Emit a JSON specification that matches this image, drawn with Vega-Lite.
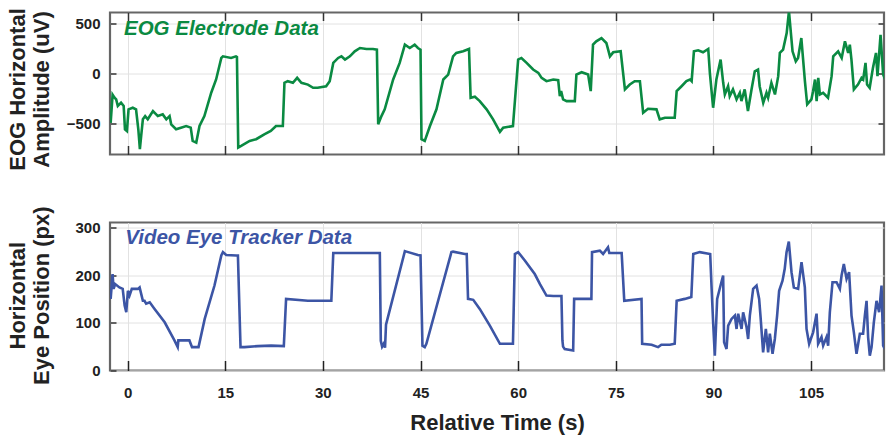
{
"$schema": "https://vega.github.io/schema/vega-lite/v6.json",
"background": "white",
"padding": {"left": 4, "top": 6.5, "right": 0, "bottom": 4},
"bounds": "flush",
"spacing": 68,
"config": {"view": {"stroke": "#666666", "strokeWidth": 2.2}, "font": "Liberation Sans"},
"datasets": {
"eog": [
{"t":-2.6,"v":-490},{"t":-2.3,"v":-210},{"t":-2.0,"v":-240},{"t":-1.75,"v":-257},{"t":-1.5,"v":-323},{"t":-1.0,"v":-290},{"t":-0.6,"v":-323},{"t":-0.4,"v":-554},{"t":-0.1,"v":-571},{"t":0.15,"v":-356},{"t":0.8,"v":-340},{"t":1.3,"v":-356},{"t":1.65,"v":-554},{"t":1.89,"v":-752},{"t":2.09,"v":-620},{"t":2.35,"v":-455},{"t":2.7,"v":-423},{"t":3.1,"v":-455},{"t":3.9,"v":-373},{"t":4.65,"v":-423},{"t":5.4,"v":-406},{"t":5.95,"v":-455},{"t":6.45,"v":-423},{"t":6.7,"v":-505},{"t":7.45,"v":-554},{"t":8.2,"v":-538},{"t":9.0,"v":-522},{"t":9.7,"v":-538},{"t":10.0,"v":-670},{"t":10.55,"v":-686},{"t":11.05,"v":-522},{"t":11.8,"v":-423},{"t":12.85,"v":-191},{"t":13.6,"v":-59},{"t":14.4,"v":155},{"t":14.65,"v":171},{"t":15.9,"v":155},{"t":16.65,"v":171},{"t":16.8,"v":165},{"t":17.0,"v":-736},{"t":17.45,"v":-720},{"t":18.75,"v":-670},{"t":19.75,"v":-653},{"t":21.0,"v":-604},{"t":22.0,"v":-571},{"t":22.8,"v":-522},{"t":23.85,"v":-522},{"t":24.1,"v":-92},{"t":24.6,"v":-76},{"t":25.4,"v":-92},{"t":26.05,"v":-43},{"t":26.7,"v":-92},{"t":27.7,"v":-110},{"t":28.5,"v":-142},{"t":29.2,"v":-142},{"t":30.5,"v":-126},{"t":31.05,"v":-76},{"t":31.6,"v":106},{"t":32.35,"v":155},{"t":32.85,"v":171},{"t":33.4,"v":139},{"t":34.15,"v":171},{"t":34.9,"v":221},{"t":35.7,"v":254},{"t":36.7,"v":244},{"t":37.7,"v":244},{"t":38.3,"v":238},{"t":38.5,"v":-505},{"t":39.0,"v":-423},{"t":39.5,"v":-356},{"t":40.8,"v":-59},{"t":41.8,"v":106},{"t":42.6,"v":287},{"t":43.35,"v":254},{"t":44.1,"v":287},{"t":44.6,"v":254},{"t":45.0,"v":238},{"t":45.15,"v":-653},{"t":45.65,"v":-670},{"t":46.45,"v":-522},{"t":47.45,"v":-356},{"t":48.5,"v":-59},{"t":49.25,"v":-10},{"t":50.0,"v":171},{"t":50.5,"v":205},{"t":51.55,"v":221},{"t":52.45,"v":244},{"t":52.7,"v":-241},{"t":53.35,"v":-231},{"t":54.1,"v":-274},{"t":55.15,"v":-356},{"t":56.15,"v":-455},{"t":57.2,"v":-580},{"t":57.7,"v":-538},{"t":59.2,"v":-522},{"t":59.6,"v":-191},{"t":60.0,"v":139},{"t":60.5,"v":155},{"t":61.3,"v":106},{"t":62.3,"v":40},{"t":63.1,"v":7},{"t":63.6,"v":-43},{"t":64.35,"v":-76},{"t":65.4,"v":-59},{"t":66.15,"v":-66},{"t":66.4,"v":-225},{"t":66.6,"v":-175},{"t":66.9,"v":-257},{"t":67.45,"v":-274},{"t":68.7,"v":-274},{"t":68.95,"v":-10},{"t":69.75,"v":13},{"t":70.75,"v":-10},{"t":71.15,"v":-175},{"t":71.5,"v":287},{"t":72.0,"v":320},{"t":72.8,"v":353},{"t":73.55,"v":304},{"t":74.1,"v":171},{"t":74.6,"v":211},{"t":75.75,"v":221},{"t":76.4,"v":-158},{"t":77.15,"v":-109},{"t":77.9,"v":-76},{"t":78.7,"v":-76},{"t":79.2,"v":-389},{"t":79.95,"v":-350},{"t":81.25,"v":-356},{"t":81.75,"v":-455},{"t":82.55,"v":-439},{"t":84.05,"v":-439},{"t":84.35,"v":-175},{"t":85.1,"v":-126},{"t":85.85,"v":-76},{"t":86.4,"v":-59},{"t":86.65,"v":-76},{"t":87.0,"v":221},{"t":87.65,"v":231},{"t":88.4,"v":211},{"t":89.2,"v":244},{"t":89.45,"v":7},{"t":89.95,"v":-340},{"t":90.45,"v":-59},{"t":91.1,"v":139},{"t":91.5,"v":-92},{"t":91.75,"v":-208},{"t":92.25,"v":-126},{"t":92.5,"v":-225},{"t":93.0,"v":-158},{"t":93.55,"v":-257},{"t":94.05,"v":-191},{"t":94.3,"v":-274},{"t":94.8,"v":-158},{"t":95.3,"v":-373},{"t":95.85,"v":-158},{"t":96.35,"v":23},{"t":96.85,"v":40},{"t":97.1,"v":-126},{"t":97.65,"v":-290},{"t":98.15,"v":-191},{"t":98.4,"v":-241},{"t":98.9,"v":-92},{"t":99.45,"v":-208},{"t":99.95,"v":-26},{"t":100.2,"v":205},{"t":100.7,"v":238},{"t":101.25,"v":403},{"t":101.6,"v":620},{"t":101.85,"v":436},{"t":102.15,"v":221},{"t":102.65,"v":122},{"t":103.0,"v":155},{"t":103.5,"v":353},{"t":104.05,"v":-76},{"t":104.4,"v":-307},{"t":105.05,"v":-257},{"t":105.3,"v":-175},{"t":105.6,"v":-59},{"t":105.85,"v":-274},{"t":106.1,"v":-43},{"t":106.35,"v":-208},{"t":106.85,"v":-191},{"t":107.6,"v":-241},{"t":108.15,"v":-26},{"t":108.4,"v":171},{"t":109.15,"v":221},{"t":109.7,"v":155},{"t":110.2,"v":320},{"t":110.7,"v":205},{"t":110.95,"v":287},{"t":111.2,"v":139},{"t":111.57,"v":-158},{"t":112.2,"v":-109},{"t":112.75,"v":-43},{"t":113.0,"v":-59},{"t":113.36,"v":106},{"t":113.6,"v":-109},{"t":114.0,"v":-142},{"t":114.5,"v":56},{"t":114.97,"v":205},{"t":115.2,"v":-26},{"t":115.67,"v":386},{"t":116.07,"v":-10},{"t":116.5,"v":-76}
],
"vet": [
{"t":-2.6,"v":150},{"t":-2.3,"v":202},{"t":-2.15,"v":171},{"t":-1.9,"v":181},{"t":-1.25,"v":174},{"t":-0.75,"v":171},{"t":-0.45,"v":136},{"t":-0.2,"v":122},{"t":0.05,"v":167},{"t":0.3,"v":157},{"t":0.65,"v":171},{"t":1.6,"v":171},{"t":1.85,"v":174},{"t":2.1,"v":160},{"t":2.35,"v":146},{"t":2.6,"v":146},{"t":2.85,"v":140},{"t":3.4,"v":143},{"t":4.15,"v":129},{"t":5.7,"v":101},{"t":7.2,"v":63},{"t":7.7,"v":49},{"t":7.8,"v":63},{"t":9.5,"v":63},{"t":9.9,"v":49},{"t":10.9,"v":49},{"t":11.85,"v":108},{"t":13.35,"v":178},{"t":14.4,"v":241},{"t":14.65,"v":248},{"t":15.15,"v":242},{"t":16.7,"v":241},{"t":16.95,"v":241},{"t":17.35,"v":49},{"t":17.95,"v":49},{"t":20.0,"v":51},{"t":22.05,"v":52},{"t":24.0,"v":51},{"t":24.35,"v":150},{"t":27.7,"v":146},{"t":31.3,"v":146},{"t":31.6,"v":246},{"t":34.0,"v":246},{"t":38.75,"v":246},{"t":38.9,"v":62},{"t":39.1,"v":50},{"t":39.35,"v":56},{"t":39.55,"v":48},{"t":39.7,"v":96},{"t":42.6,"v":250},{"t":42.85,"v":249},{"t":44.6,"v":242},{"t":45.0,"v":241},{"t":45.3,"v":52},{"t":45.65,"v":49},{"t":45.9,"v":56},{"t":49.75,"v":248},{"t":50.0,"v":249},{"t":51.8,"v":244},{"t":52.1,"v":244},{"t":52.3,"v":150},{"t":53.1,"v":148},{"t":54.1,"v":129},{"t":55.65,"v":94},{"t":57.2,"v":56},{"t":59.2,"v":56},{"t":59.5,"v":244},{"t":60.0,"v":248},{"t":61.05,"v":230},{"t":62.55,"v":202},{"t":63.35,"v":181},{"t":64.35,"v":157},{"t":65.4,"v":156},{"t":66.65,"v":156},{"t":66.8,"v":63},{"t":66.9,"v":50},{"t":67.15,"v":45},{"t":68.45,"v":42},{"t":68.6,"v":150},{"t":71.25,"v":150},{"t":71.35,"v":248},{"t":72.55,"v":251},{"t":73.05,"v":244},{"t":73.8,"v":258},{"t":74.0,"v":246},{"t":75.9,"v":246},{"t":76.3,"v":146},{"t":78.95,"v":150},{"t":79.05,"v":56},{"t":80.5,"v":54},{"t":81.5,"v":49},{"t":82.0,"v":54},{"t":83.3,"v":54},{"t":84.05,"v":56},{"t":84.35,"v":146},{"t":85.6,"v":150},{"t":86.6,"v":154},{"t":86.9,"v":244},{"t":87.9,"v":248},{"t":89.5,"v":244},{"t":89.7,"v":178},{"t":89.95,"v":101},{"t":90.21,"v":31},{"t":90.57,"v":150},{"t":91.09,"v":178},{"t":91.49,"v":199},{"t":91.64,"v":59},{"t":92.01,"v":45},{"t":92.26,"v":94},{"t":92.78,"v":108},{"t":93.29,"v":115},{"t":93.55,"v":87},{"t":93.8,"v":119},{"t":94.32,"v":87},{"t":94.56,"v":122},{"t":95.08,"v":91},{"t":95.33,"v":66},{"t":95.59,"v":115},{"t":96.1,"v":171},{"t":96.62,"v":178},{"t":97.02,"v":150},{"t":97.24,"v":112},{"t":97.63,"v":38},{"t":98.05,"v":87},{"t":98.4,"v":38},{"t":98.66,"v":77},{"t":99.08,"v":35},{"t":99.43,"v":66},{"t":99.78,"v":115},{"t":100.09,"v":167},{"t":100.61,"v":188},{"t":100.95,"v":213},{"t":101.23,"v":248},{"t":101.58,"v":270},{"t":101.99,"v":206},{"t":102.35,"v":174},{"t":103.01,"v":171},{"t":103.53,"v":227},{"t":104.04,"v":174},{"t":104.3,"v":87},{"t":104.7,"v":56},{"t":105.31,"v":80},{"t":105.84,"v":119},{"t":106.08,"v":56},{"t":106.6,"v":70},{"t":106.85,"v":52},{"t":107.37,"v":70},{"t":107.62,"v":52},{"t":107.88,"v":122},{"t":108.29,"v":185},{"t":108.91,"v":185},{"t":109.42,"v":171},{"t":109.68,"v":199},{"t":110.03,"v":223},{"t":110.45,"v":192},{"t":110.84,"v":206},{"t":111.21,"v":115},{"t":111.57,"v":80},{"t":111.98,"v":35},{"t":112.49,"v":77},{"t":112.99,"v":77},{"t":113.26,"v":115},{"t":113.52,"v":146},{"t":113.76,"v":70},{"t":114.02,"v":31},{"t":114.29,"v":49},{"t":114.64,"v":101},{"t":115.05,"v":146},{"t":115.45,"v":122},{"t":115.82,"v":178},{"t":116.07,"v":52},{"t":116.47,"v":42}
]
},
"vconcat": [
{
"width": 774, "height": 142,
"layer": [
{"data": {"name": "eog"},
 "mark": {"type": "line", "color": "#0a8a42", "strokeWidth": 2.6, "clip": true},
 "encoding": {
  "x": {"field": "t", "type": "quantitative", "scale": {"domain": [-2.7, 116.2], "nice": false, "zero": false},
        "axis": {"orient": "bottom", "values": [0,15,30,45,60,75,90,105], "labels": false, "title": null, "tickSize": -9, "tickColor": "#333", "tickWidth": 1.5, "domain": false, "grid": true, "gridColor": "#e2e2e2", "gridWidth": 1}},
  "y": {"field": "v", "type": "quantitative", "scale": {"domain": [-805, 607], "nice": false, "zero": false},
        "axis": {"orient": "left", "values": [-500,0,500], "tickSize": -6, "tickColor": "#333", "tickWidth": 1.5, "labelPadding": 16, "labelFontSize": 15, "labelFontWeight": "bold", "labelColor": "#222", "labelFont": "Liberation Sans",
                 "title": ["EOG Horizontal", "Amplitude (uV)"], "titleFont": "Liberation Sans", "titleFontSize": 22, "titleFontWeight": "bold", "titleColor": "#222", "titleAngle": 270, "titleX": -103, "titleY": 76.5, "titleAlign": "center", "titleBaseline": "top", "titleLineHeight": 24,
                 "domain": false, "grid": true, "gridColor": "#e2e2e2", "gridWidth": 1}}
 }},
{"data": {"values": [{}]},
 "mark": {"type": "text", "text": "EOG Electrode Data", "align": "left", "baseline": "alphabetic", "font": "Liberation Sans", "fontSize": 20.5, "fontStyle": "italic", "fontWeight": "bold", "color": "#0a8a42"},
 "encoding": {
  "x": {"datum": -0.55, "type": "quantitative", "axis": {"orient": "top", "values": [0,15,30,45,60,75,90,105], "labels": false, "title": null, "tickSize": -8, "tickColor": "#333", "tickWidth": 1.5, "domain": false, "grid": false}},
  "y": {"datum": 386, "type": "quantitative", "axis": {"orient": "right", "values": [-500,0,500], "labels": false, "title": null, "tickSize": -6, "tickColor": "#333", "tickWidth": 1.5, "domain": false, "grid": false}}
 }}
],
"resolve": {"axis": {"x": "independent", "y": "independent"}}
},
{
"width": 774, "height": 148,
"layer": [
{"data": {"name": "vet"},
 "mark": {"type": "line", "color": "#3c55a5", "strokeWidth": 2.6, "clip": true},
 "encoding": {
  "x": {"field": "t", "type": "quantitative", "scale": {"domain": [-2.7, 116.2], "nice": false, "zero": false},
        "axis": {"orient": "bottom", "values": [0,15,30,45,60,75,90,105], "tickSize": -10, "tickColor": "#222", "tickWidth": 1.5, "labelPadding": 24.8, "labelFontSize": 15, "labelFontWeight": "bold", "labelColor": "#222", "labelFont": "Liberation Sans",
                 "title": "Relative Time (s)", "titleFont": "Liberation Sans", "titleFontSize": 22, "titleFontWeight": "bold", "titleColor": "#222", "titleY": 59, "titleBaseline": "alphabetic",
                 "domain": false, "grid": true, "gridColor": "#e2e2e2", "gridWidth": 1}},
  "y": {"field": "v", "type": "quantitative", "scale": {"domain": [0, 310], "nice": false, "zero": false},
        "axis": {"orient": "left", "values": [0,100,200,300], "tickSize": -6, "tickColor": "#333", "tickWidth": 1.5, "labelPadding": 16, "labelFontSize": 15, "labelFontWeight": "bold", "labelColor": "#222", "labelFont": "Liberation Sans",
                 "title": ["Horizontal", "Eye Position (px)"], "titleFont": "Liberation Sans", "titleFontSize": 22, "titleFontWeight": "bold", "titleColor": "#222", "titleAngle": 270, "titleX": -103, "titleY": 72.7, "titleAlign": "center", "titleBaseline": "top", "titleLineHeight": 24,
                 "domain": false, "grid": true, "gridColor": "#e2e2e2", "gridWidth": 1}}
 }},
{"data": {"values": [{}]},
 "mark": {"type": "text", "text": "Video Eye Tracker Data", "align": "left", "baseline": "alphabetic", "font": "Liberation Sans", "fontSize": 20.5, "fontStyle": "italic", "fontWeight": "bold", "color": "#3c55a5"},
 "encoding": {
  "x": {"datum": -0.35, "type": "quantitative"},
  "y": {"datum": 264, "type": "quantitative"}
 }}
]
}
]
}
